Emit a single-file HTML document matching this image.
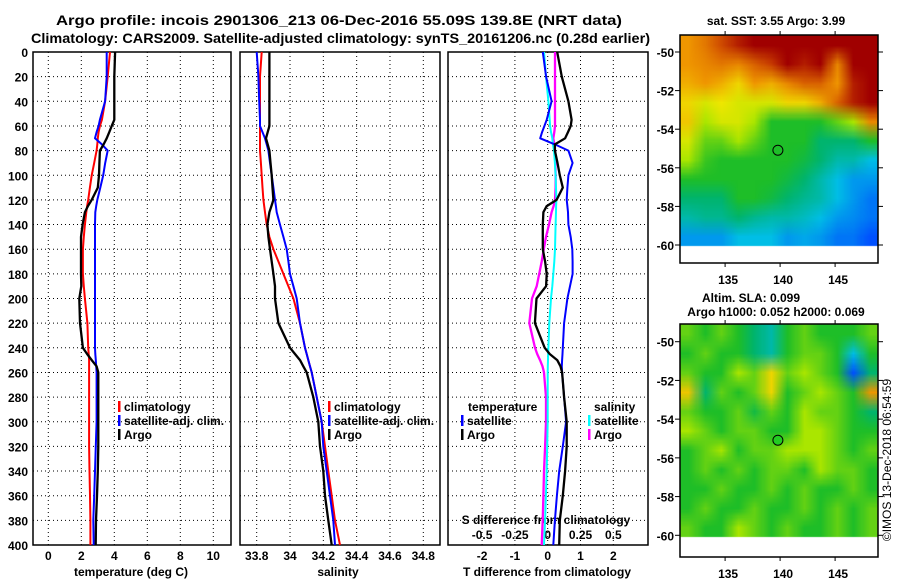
<!DOCTYPE html>
<html><head><meta charset="utf-8">
<style>
html,body{margin:0;padding:0;background:#fff;}
#wrap{position:relative;width:900px;height:580px;overflow:hidden;font-family:"Liberation Sans",sans-serif;}
svg{position:absolute;left:0;top:0;}
canvas{position:absolute;}
text{font-family:"Liberation Sans",sans-serif;font-weight:bold;fill:#000;}
</style></head>
<body>
<div id="wrap">
<canvas id="sstMap" width="198" height="228" style="left:680px;top:35px;"></canvas>
<canvas id="slaMap" width="198" height="233" style="left:680px;top:324px;"></canvas>
<svg id="fig" width="900" height="580" xmlns="http://www.w3.org/2000/svg"></svg>
</div>
<script>
// ---------- data ----------
const depths = [0,20,40,55,60,65,70,75,80,90,100,110,120,125,130,140,150,160,170,180,190,200,220,240,245,250,255,260,280,300,320,340,360,380,400];
const tempArgo = [4.05,4.0,4.0,4.0,3.84,3.7,3.54,3.35,3.13,3.1,3.07,3.0,2.63,2.4,2.22,2.08,1.98,1.98,1.98,1.98,2.0,1.88,1.92,2.1,2.35,2.63,2.93,3.03,3.03,3.03,3.03,3.0,2.95,2.89,2.87];
const tempClim = [3.74,3.6,3.44,3.25,3.13,3.05,3.0,2.97,2.93,2.78,2.63,2.52,2.42,2.35,2.3,2.22,2.15,2.1,2.1,2.1,2.15,2.22,2.37,2.42,2.45,2.47,2.47,2.47,2.47,2.47,2.47,2.5,2.53,2.55,2.55];
const tempSat = [3.54,3.54,3.44,3.13,3.05,2.93,2.83,3.25,3.6,3.45,3.33,3.15,2.97,2.9,2.85,2.83,2.83,2.83,2.83,2.83,2.83,2.83,2.83,2.83,2.85,2.88,2.9,2.93,2.93,2.93,2.88,2.83,2.78,2.73,2.75];
const salArgo = [33.876,33.876,33.876,33.876,33.876,33.866,33.856,33.866,33.876,33.883,33.89,33.895,33.9,33.888,33.876,33.864,33.87,33.88,33.89,33.9,33.91,33.91,33.93,34.0,34.03,34.06,34.08,34.1,34.14,34.17,34.18,34.2,34.21,34.23,34.25];
const salClim = [33.83,33.82,33.82,33.82,33.82,33.82,33.82,33.82,33.82,33.825,33.83,33.835,33.84,33.845,33.85,33.86,33.876,33.9,33.93,33.96,33.99,34.02,34.06,34.09,34.1,34.11,34.12,34.13,34.16,34.19,34.21,34.23,34.25,34.27,34.3];
const salSat = [33.8,33.81,33.815,33.82,33.82,33.835,33.85,33.86,33.87,33.88,33.89,33.9,33.91,33.915,33.92,33.94,33.96,33.98,33.99,34.0,34.02,34.04,34.06,34.09,34.1,34.11,34.12,34.13,34.16,34.19,34.2,34.22,34.24,34.26,34.27];
const tdiffArgo = [0.29,0.43,0.63,0.73,0.7,0.62,0.53,0.22,0.22,0.3,0.37,0.46,0.27,-0.03,-0.13,-0.15,-0.15,-0.15,-0.08,-0.03,-0.05,-0.34,-0.39,-0.09,0.06,0.29,0.39,0.44,0.5,0.58,0.58,0.53,0.46,0.37,0.35];
const tdiffSat = [-0.15,-0.05,0.12,-0.03,-0.1,-0.17,-0.23,0.22,0.63,0.76,0.63,0.6,0.58,0.6,0.62,0.63,0.7,0.75,0.76,0.76,0.68,0.6,0.5,0.46,0.45,0.44,0.43,0.44,0.5,0.56,0.46,0.35,0.28,0.22,0.17];
const sdiffArgo = [0.056,0.056,0.056,0.056,0.056,0.05,0.043,0.05,0.056,0.058,0.06,0.06,0.056,0.045,0.03,0.01,-0.013,-0.03,-0.046,-0.065,-0.084,-0.12,-0.14,-0.097,-0.08,-0.059,-0.04,-0.028,-0.013,-0.013,-0.02,-0.028,-0.033,-0.038,-0.046];
const sdiffSat = [-0.028,-0.013,0.005,0.015,0.018,0.025,0.035,0.04,0.048,0.055,0.06,0.063,0.066,0.064,0.063,0.06,0.058,0.056,0.05,0.043,0.035,0.025,0.012,0.005,0.003,0.002,0.001,0,0,0,-0.004,-0.008,-0.014,-0.02,-0.028];
const depthTicks = [0,20,40,60,80,100,120,140,160,180,200,220,240,260,280,300,320,340,360,380,400];
const tempTicks = [0,2,4,6,8,10];
const salTicks = [33.8,34,34.2,34.4,34.6,34.8];
const tdiffTicks = [-2,-1,0,1,2];
const sdiffTicks = [-0.5,-0.25,0,0.25,0.5];
const sdiffTickLabels = ['-0.5','-0.25','0','0.25','0.5'];
const lonTicks = [135,140,145];
const latTicks = [-50,-52,-54,-56,-58,-60];
// SST map grid (colour index 0..1), rows lat -49.1..-60, cols lon 130.9..148.9
const sstGrid = [
[0.78,0.82,0.88,0.95,1,1,1,1,1,1,1,1],
[0.78,0.8,0.82,0.8,0.85,0.9,1,0.95,1,0.8,1,1],
[0.75,0.78,0.75,0.7,0.78,0.75,0.8,0.85,0.85,0.78,0.95,1],
[0.7,0.65,0.68,0.65,0.65,0.65,0.7,0.7,0.75,0.85,0.95,1],
[0.72,0.6,0.65,0.65,0.6,0.5,0.5,0.5,0.5,0.55,0.6,0.8],
[0.65,0.55,0.55,0.6,0.55,0.5,0.5,0.5,0.45,0.45,0.45,0.5],
[0.6,0.52,0.5,0.5,0.5,0.5,0.5,0.48,0.45,0.4,0.4,0.35],
[0.5,0.5,0.5,0.5,0.5,0.5,0.48,0.45,0.4,0.35,0.3,0.3],
[0.45,0.45,0.45,0.5,0.5,0.48,0.45,0.42,0.4,0.35,0.3,0.25],
[0.4,0.42,0.42,0.45,0.42,0.4,0.4,0.38,0.35,0.3,0.28,0.25],
[0.3,0.3,0.3,0.35,0.35,0.35,0.3,0.32,0.3,0.25,0.25,0.2]];
const slaGrid = [
[.55,.5,.55,.5,.45,.4,.5,.55,.5,.5,.5,.55],
[.5,.55,.5,.5,.45,.4,.5,.55,.55,.5,.35,.5],
[.55,.5,.5,.6,.55,.7,.55,.6,.55,.5,.2,.45],
[.72,.45,.55,.5,.55,.7,.5,.55,.6,.55,.5,.78],
[.55,.5,.5,.55,.48,.55,.5,.6,.55,.55,.5,.45],
[.6,.55,.5,.55,.55,.5,.5,.6,.6,.55,.5,.5],
[.5,.55,.6,.5,.55,.55,.6,.6,.6,.55,.5,.55],
[.5,.55,.5,.55,.5,.55,.55,.5,.6,.55,.55,.5],
[.5,.5,.55,.5,.5,.55,.5,.55,.5,.5,.55,.5],
[.5,.55,.5,.5,.55,.5,.5,.55,.5,.55,.5,.55],
[.55,.5,.5,.6,.55,.5,.55,.5,.5,.55,.5,.55]];
const argoLon = 139.8, argoLat = -55.09;

// ---------- scales ----------
const PT=52, PB=545;
const yD = d => PT + d*(PB-PT)/400;
const xT = t => 48.3 + t*16.5;
const xS = s => 256.7 + (s-33.8)*166.6;
const xTD = t => 547.7 + t*32.8;
const xSD = s => 547.7 + s*131.2;
const panels = [[33,231],[240,440],[448,648]];
const mLon = lon => 680 + (lon-130.9)*11;
const m1Lat = lat => 52 + (-50-lat)*19.3;
const m2Lat = lat => 341.7 + (-50-lat)*19.36;

const NS='http://www.w3.org/2000/svg';
const svg=document.getElementById('fig');
function el(tag,attrs,parent){const e=document.createElementNS(NS,tag);for(const k in attrs)e.setAttribute(k,attrs[k]);(parent||svg).appendChild(e);return e;}
function txt(s,x,y,size,anchor,name,extra){const t=el('text',Object.assign({x:x,y:y,'font-size':size,'text-anchor':anchor||'start'},extra||{}));t.textContent=s;


return t;}

// titles
txt('Argo profile: incois 2901306_213 06-Dec-2016 55.09S 139.8E (NRT data)',56,25,14,'start','title-line-1',{textLength:566,lengthAdjust:'spacingAndGlyphs'});
txt('Climatology: CARS2009. Satellite-adjusted climatology: synTS_20161206.nc (0.28d earlier)',31,43,14,'start','title-line-2',{textLength:619,lengthAdjust:'spacingAndGlyphs'});

// panels
panels.forEach((p,i)=>{
  const g=el('g',{});
  
  
  depthTicks.forEach(d=>{ if(d>0&&d<400){const l=el('line',{x1:p[0],x2:p[1],y1:yD(d),y2:yD(d),stroke:'#000','stroke-width':1,'stroke-dasharray':'1,3'},g);
    
    }});
  const r=el('rect',{x:p[0],y:PT,width:p[1]-p[0],height:PB-PT,fill:'none',stroke:'#000','stroke-width':1.5},g);
  
  
});
depthTicks.forEach(d=>{txt(String(d),28,yD(d)+5,12,'end','depth-tick-label');});
function vgrid(ticks,fx,name){ticks.forEach(t=>{const l=el('line',{x1:fx(t),x2:fx(t),y1:PT,y2:PB,stroke:'#000','stroke-width':1,'stroke-dasharray':'1,3'});
  
  });}
vgrid(tempTicks,xT,'temperature-gridline');
vgrid(salTicks,xS,'salinity-gridline');
vgrid(tdiffTicks,xTD,'tdiff-gridline');
tempTicks.forEach(t=>txt(String(t),xT(t),560,12,'middle','temperature-tick-label'));
salTicks.forEach(t=>txt(String(t),xS(t),560,12,'middle','salinity-tick-label'));
tdiffTicks.forEach(t=>txt(String(t),xTD(t),560,12,'middle','tdiff-tick-label'));
txt('temperature (deg C)',131,576,12,'middle','x-axis-title-temperature');
txt('salinity',338,576,12,'middle','x-axis-title-salinity');
txt('T difference from climatology',547,576,12,'middle','x-axis-title-tdiff');
txt('S difference from climatology',546,524,12,'middle','s-diff-axis-title');
sdiffTicks.forEach((s,i)=>txt(sdiffTickLabels[i],xSD(s),539,12,'middle','sdiff-tick-label'));

function series(vals,fx,color,w,name){
  const pts=vals.map((v,i)=>fx(v).toFixed(1)+','+yD(depths[i]).toFixed(1)).join(' ');
  const pl=el('polyline',{points:pts,fill:'none',stroke:color,'stroke-width':w,'stroke-linejoin':'round'});
  
  
}
series(tempClim,xT,'#f00',2,'temperature-climatology-line');
series(tempSat,xT,'#00f',2,'temperature-satellite-line');
series(tempArgo,xT,'#000',2.3,'temperature-argo-line');
series(salClim,xS,'#f00',2,'salinity-climatology-line');
series(salSat,xS,'#00f',2,'salinity-satellite-line');
series(salArgo,xS,'#000',2.3,'salinity-argo-line');
series(sdiffArgo,xSD,'#f0f',2.3,'sdiff-argo-line');
series(sdiffSat,xSD,'#0ff',2,'sdiff-satellite-line');
series(tdiffSat,xTD,'#00f',2,'tdiff-satellite-line');
series(tdiffArgo,xTD,'#000',2.3,'tdiff-argo-line');

function legend(x,y,color,label,name){
  const b=el('rect',{x:x,y:y-10,width:2.5,height:11,fill:color});
  
  
  txt(label,x+6,y,12,'start',name+'-label');
}
legend(118,411,'#f00','climatology','legend-climatology');
legend(118,425,'#00f','satellite-adj. clim.','legend-satellite');
legend(118,439,'#000','Argo','legend-argo');
legend(328,411,'#f00','climatology','legend-sal-climatology');
legend(328,425,'#00f','satellite-adj. clim.','legend-sal-satellite');
legend(328,439,'#000','Argo','legend-sal-argo');
txt('temperature',468,411,12,'start','legend-temperature-heading');
legend(461,425,'#00f','satellite','legend-tdiff-satellite');
legend(461,439,'#000','Argo','legend-tdiff-argo');
txt('salinity',594,411,12,'start','legend-salinity-heading');
legend(588,425,'#0ff','satellite','legend-sdiff-satellite');
legend(588,439,'#f0f','Argo','legend-sdiff-argo');

// ---------- maps ----------
const cstops=[[0,[0,0,140]],[0.2,[0,80,255]],[0.35,[0,190,230]],[0.45,[0,180,110]],[0.5,[30,190,40]],[0.6,[170,230,0]],[0.68,[240,230,0]],[0.78,[240,150,0]],[0.9,[200,60,0]],[1,[160,0,0]]];
function cmap(v){for(let i=1;i<cstops.length;i++){if(v<=cstops[i][0]){const a=cstops[i-1],b=cstops[i],f=(v-a[0])/(b[0]-a[0]);return 'rgb('+a[1].map((c,k)=>Math.round(c+(b[1][k]-c)*f)).join(',')+')';}}return 'rgb(160,0,0)';}
function drawMap(id,grid,dataH,smooth){
  const cv=document.getElementById(id),ctx=cv.getContext('2d');
  const rows=grid.length,cols=grid[0].length;
  const sm=document.createElement('canvas');sm.width=cols;sm.height=rows;
  const sc=sm.getContext('2d');
  grid.forEach((row,r)=>row.forEach((v,c)=>{sc.fillStyle=cmap(v);sc.fillRect(c,r,1,1);}));
  ctx.fillStyle='#fff';ctx.fillRect(0,0,cv.width,cv.height);
  ctx.imageSmoothingEnabled=smooth;
  ctx.drawImage(sm,0,0,cv.width,dataH);
}
drawMap('sstMap',sstGrid,211,true);
drawMap('slaMap',slaGrid,213,true);

function mapFrame(top,bottom,fLat,name,markerFill){
  const r=el('rect',{x:680,y:top,width:198,height:bottom-top,fill:'none',stroke:'#000','stroke-width':1.5});
  
  
  latTicks.forEach(l=>{el('line',{x1:675,x2:680,y1:fLat(l),y2:fLat(l),stroke:'#000'});el('line',{x1:878,x2:883,y1:fLat(l),y2:fLat(l),stroke:'#000'});
    txt(String(l),674,fLat(l)+5,12,'end',name+'-lat-label');});
  lonTicks.forEach(l=>{el('line',{x1:mLon(l),x2:mLon(l),y1:top-4,y2:top,stroke:'#000'});el('line',{x1:mLon(l),x2:mLon(l),y1:bottom,y2:bottom+4,stroke:'#000'});
    txt(String(l),mLon(l)+3,bottom+21,12,'middle',name+'-lon-label');});
  const c=el('circle',{cx:mLon(argoLon),cy:fLat(argoLat),r:5,fill:markerFill,stroke:'#000','stroke-width':1});
  
  
}
mapFrame(35,263,m1Lat,'sst-map','none');
mapFrame(324,557,m2Lat,'sla-map','#2c2');
txt('sat. SST: 3.55 Argo: 3.99',776,25,12,'middle','sst-map-title');
txt('Altim. SLA: 0.099',751,302,12,'middle','sla-map-title');
txt('Argo h1000: 0.052 h2000: 0.069',776,316,12,'middle','sla-map-subtitle');
txt('©IMOS 13-Dec-2018 06:54:59',0,0,12,'middle','timestamp-credit',{transform:'translate(891,460) rotate(-90)',style:'font-weight:normal'});
</script>
</body></html>
